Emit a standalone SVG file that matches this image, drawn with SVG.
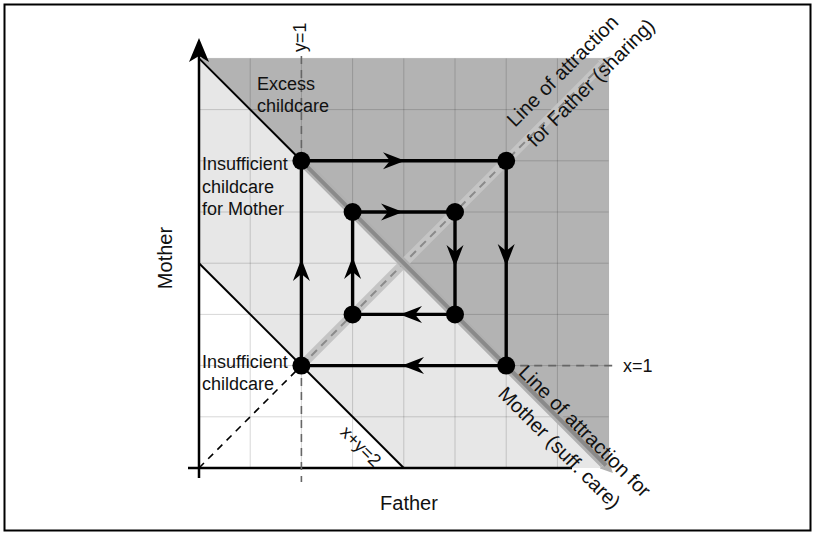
<svg xmlns="http://www.w3.org/2000/svg" width="815" height="535" viewBox="0 0 815 535">
<style>
text{font-family:"Liberation Sans",Arial,sans-serif;fill:#111}
.lbl{font-size:18px}
.big{font-size:20px}
.grid line{stroke:#000;stroke-opacity:0.16;stroke-width:1}
.edge{stroke:#000;stroke-width:3.4;fill:none}
.node{fill:#000}
.dash{stroke:#666;stroke-width:1.6;stroke-dasharray:8 6;fill:none}
</style>
<defs>
<path id="ah" d="M0,0 L-22,-8.5 L-15,0 L-22,8.5 Z" fill="#000"/>
<marker id="gtip" viewBox="0 0 10 10" refX="0" refY="5" markerWidth="1.4" markerHeight="1.4" orient="auto" markerUnits="strokeWidth"><path d="M0,0 L10,5 L0,10 Z" fill="#c4c4c4"/></marker>
<marker id="gtip2" viewBox="0 0 10 10" refX="0" refY="5" markerWidth="1.4" markerHeight="1.4" orient="auto" markerUnits="strokeWidth"><path d="M0,0 L10,5 L0,10 Z" fill="#b0b0b0"/></marker>
</defs>
<rect x="0" y="0" width="815" height="535" fill="#fff"/>
<rect x="4.5" y="4.5" width="806" height="526" fill="none" stroke="#000" stroke-width="2"/>
<g id="regions">
<polygon points="199,58.4 608.6,58.4 608.6,468" fill="#b3b3b3"/>
<polygon points="199,58.4 608.6,468 403.8,468 199,263.2" fill="#e7e7e7"/>
</g>
<g class="grid" id="grid">
<line x1="250.2" y1="58.4" x2="250.2" y2="468"/><line x1="301.4" y1="58.4" x2="301.4" y2="468"/><line x1="352.6" y1="58.4" x2="352.6" y2="468"/><line x1="403.8" y1="58.4" x2="403.8" y2="468"/><line x1="455" y1="58.4" x2="455" y2="468"/><line x1="506.2" y1="58.4" x2="506.2" y2="468"/><line x1="557.4" y1="58.4" x2="557.4" y2="468"/><line x1="608.6" y1="58.4" x2="608.6" y2="468"/>
<line x1="199" y1="416.8" x2="608.6" y2="416.8"/><line x1="199" y1="365.6" x2="608.6" y2="365.6"/><line x1="199" y1="314.4" x2="608.6" y2="314.4"/><line x1="199" y1="263.2" x2="608.6" y2="263.2"/><line x1="199" y1="212" x2="608.6" y2="212"/><line x1="199" y1="160.8" x2="608.6" y2="160.8"/><line x1="199" y1="109.6" x2="608.6" y2="109.6"/><line x1="199" y1="58.4" x2="608.6" y2="58.4"/>
</g>
<g id="axes">
<line x1="199" y1="478" x2="199" y2="50" stroke="#000" stroke-width="2.5"/>
<path d="M199,38 L209,62 L199,56 L189,62 Z" fill="#000"/>
<line x1="188" y1="468" x2="572" y2="468" stroke="#000" stroke-width="2.5"/>
</g>
<g id="guides">
<line x1="199" y1="58.4" x2="301.4" y2="160.8" stroke="#000" stroke-width="2"/>
<line x1="199" y1="263.2" x2="403.8" y2="468" stroke="#000" stroke-width="2"/>
<line x1="199" y1="468" x2="301.4" y2="365.6" stroke="#000" stroke-width="1.6" stroke-dasharray="7 6"/>
<line x1="301.4" y1="56" x2="301.4" y2="482" class="dash"/>
<line x1="506.2" y1="365.6" x2="617" y2="365.6" class="dash"/>
</g>
<g id="attraction-lines">
<line x1="301.4" y1="365.6" x2="602" y2="65" stroke="#c4c4c4" stroke-width="9" marker-end="url(#gtip)"/>
<line x1="301.4" y1="365.6" x2="606" y2="61" stroke="#8a8a8a" stroke-width="2" stroke-dasharray="8 6"/>
<line x1="301.4" y1="160.8" x2="604" y2="464" stroke="#b0b0b0" stroke-width="9" marker-end="url(#gtip2)"/>
<line x1="301.4" y1="160.8" x2="606" y2="465.4" stroke="#8a8a8a" stroke-width="4"/>
</g>
<g id="connectors">
<line class="edge" x1="301.4" y1="160.8" x2="506.2" y2="160.8"/>
<line class="edge" x1="506.2" y1="160.8" x2="506.2" y2="365.6"/>
<line class="edge" x1="506.2" y1="365.6" x2="301.4" y2="365.6"/>
<line class="edge" x1="301.4" y1="365.6" x2="301.4" y2="160.8"/>
<line class="edge" x1="352.6" y1="212" x2="455" y2="212"/>
<line class="edge" x1="455" y1="212" x2="455" y2="314.4"/>
<line class="edge" x1="455" y1="314.4" x2="352.6" y2="314.4"/>
<line class="edge" x1="352.6" y1="314.4" x2="352.6" y2="212"/>
<use href="#ah" transform="translate(405,160.8)"/>
<use href="#ah" transform="translate(506.2,266) rotate(90)"/>
<use href="#ah" transform="translate(402,365.6) rotate(180)"/>
<use href="#ah" transform="translate(301.4,259) rotate(-90)"/>
<use href="#ah" transform="translate(403,212)"/>
<use href="#ah" transform="translate(455,267) rotate(90)"/>
<use href="#ah" transform="translate(400,314.4) rotate(180)"/>
<use href="#ah" transform="translate(352.6,257) rotate(-90)"/>
</g>
<g id="n1"><circle class="node" cx="301.4" cy="160.8" r="9"/></g>
<g id="n2"><circle class="node" cx="506.2" cy="160.8" r="9"/></g>
<g id="n3"><circle class="node" cx="352.6" cy="212" r="9"/></g>
<g id="n4"><circle class="node" cx="455" cy="212" r="9"/></g>
<g id="n5"><circle class="node" cx="352.6" cy="314.4" r="9"/></g>
<g id="n6"><circle class="node" cx="455" cy="314.4" r="9"/></g>
<g id="n7"><circle class="node" cx="301.4" cy="365.6" r="9"/></g>
<g id="n8"><circle class="node" cx="506.2" cy="365.6" r="9"/></g>
<g id="labels">
<text class="lbl" x="257" y="90">Excess</text>
<text class="lbl" x="257" y="112">childcare</text>
<text class="lbl" x="202" y="170">Insufficient</text>
<text class="lbl" x="202" y="192.5">childcare</text>
<text class="lbl" x="202" y="215">for Mother</text>
<text class="lbl" x="202" y="368">Insufficient</text>
<text class="lbl" x="202" y="390">childcare</text>
<text class="lbl" x="623" y="372">x=1</text>
<text class="lbl" transform="translate(306,52) rotate(-90)">y=1</text>
<text class="lbl" text-anchor="middle" transform="translate(356.5,450.5) rotate(45)">x+y=2</text>
<text class="big" text-anchor="middle" transform="translate(172,258) rotate(-90)">Mother</text>
<text class="big" text-anchor="middle" x="409" y="510">Father</text>
<text class="big" transform="translate(515,128) rotate(-45)">Line of attraction</text>
<text class="big" transform="translate(535,148) rotate(-45)">for Father (sharing)</text>
<text class="big" transform="translate(517.5,373.5) rotate(45)">Line of attraction for</text>
<text class="big" transform="translate(497,395) rotate(45)">Mother (suff. care)</text>
</g>
</svg>
